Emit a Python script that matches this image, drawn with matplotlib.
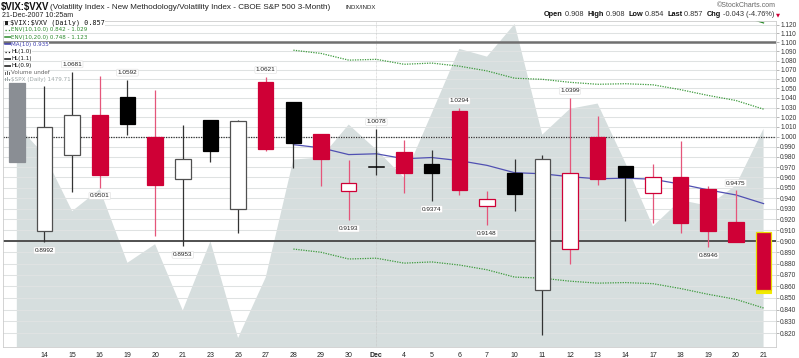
import matplotlib
matplotlib.use('Agg')
import matplotlib.pyplot as plt
import matplotlib.ticker as mticker
from matplotlib.patches import Rectangle
from matplotlib.lines import Line2D
import numpy as np
import pandas as pd

# ---------------- data ----------------
day_labels = ['', '14', '15', '16', '19', '20', '21', '23', '26', '27', '28', '29', '30',
              'Dec', '4', '5', '6', '7', '10', '11', '12', '13', '14', '17', '18', '19', '20', '21']
opens = [1.0557, 0.9094, 0.9817, 1.0225, 1.0415, 1.0003, 0.9588, 1.0170, 0.9296, 1.0574,
         1.0363, 1.0030, 0.9468, 0.9705, 0.9850, 0.9734, 1.0259, 0.9324, 0.9646, 0.8568,
         0.8928, 0.9997, 0.9714, 0.9447, 0.9601, 0.9491, 0.9180, 0.9080]
highs = [1.0557, 1.0529, 1.0681, 1.0636, 1.0592, 1.0479, 1.0122, 1.0170, 1.0170, 1.0621,
         1.0363, 1.0030, 0.9770, 1.0078, 0.9970, 0.9870, 1.0294, 0.9469, 0.9780, 0.9820,
         1.0399, 1.0214, 0.9714, 0.9730, 0.9963, 0.9517, 0.9475, 0.9080]
lows = [0.9750, 0.8992, 0.9457, 0.9501, 1.0020, 0.9048, 0.8953, 0.9750, 0.9079, 0.9860,
        0.9695, 0.9520, 0.9193, 0.9623, 0.9453, 0.9374, 0.9430, 0.9148, 0.9277, 0.8187,
        0.8793, 0.9524, 0.9187, 0.9165, 0.9078, 0.8946, 0.8994, 0.8540]
closes = [0.9750, 1.0101, 1.0218, 0.9626, 1.0129, 0.9527, 0.9780, 0.9857, 1.0160, 0.9880,
          0.9937, 0.9780, 0.9549, 0.9705, 0.9640, 0.9646, 0.9476, 0.9390, 0.9443, 0.9777,
          0.9646, 0.9588, 0.9604, 0.9601, 0.9168, 0.9094, 0.8994, 0.8570]
spx = [1481.05, 1470.58, 1451.15, 1458.74, 1433.27, 1439.70, 1416.77, 1440.70, 1407.22,
       1428.23, 1469.02, 1469.72, 1481.14, 1472.42, 1462.79, 1485.01, 1507.34, 1504.66,
       1515.96, 1477.65, 1486.59, 1488.41, 1467.95, 1445.90, 1454.98, 1453.00, 1460.12, 1479.71]
high_label_idx = [2, 4, 9, 13, 16, 20, 26]
low_label_idx = [1, 3, 6, 12, 15, 17, 25]
ma_period = 10
env_pcts = [10.0, 20.0]
hl_levels = [1.0, 1.1, 0.9]

W, H = 799, 358
fig = plt.figure(figsize=(W / 100, H / 100), dpi=100)
fig.patch.set_facecolor('white')

L, R, T, B = 3, 776, 21, 347
rect = [L / W, 1 - B / H, (R - L) / W, (B - T) / H]

RED = '#cf0036'
RED_W = '#e5557a'
AREA = '#d6dede'

n = len(closes)
x = np.arange(n)
xlim = (-0.5, n - 1 + 0.45)

# --- SPX background area (own axes, behind) ---
axs = fig.add_axes(rect)
axs.fill_between(x, spx, 1390, color=AREA, lw=0, zorder=1)
axs.set_xlim(*xlim)
axs.set_ylim(1404.1, 1517.0)
axs.axis('off')

# --- main axes ---
ax = fig.add_axes(rect)
ax.set_facecolor('none')
ax.set_yscale('log')
ax.set_xlim(*xlim)
ax.set_ylim(0.8089, 1.1240)

yt = np.round(np.arange(0.82, 1.1201, 0.01), 3)
ax.yaxis.set_major_locator(mticker.FixedLocator(yt))
ax.yaxis.set_minor_locator(mticker.NullLocator())
ax.yaxis.set_major_formatter(mticker.FuncFormatter(lambda v, p: f'{v:.3f}'))
ax.yaxis.tick_right()
ax.tick_params(axis='y', which='both', direction='out', length=2, width=0.5, color='#999999',
               pad=1, labelsize=4.7, labelcolor='#333333')
for lab in ax.get_yticklabels():
    lab.set_family('Liberation Sans')
ax.set_xticks(x)
ax.set_xticklabels(day_labels, fontsize=5, family='Liberation Sans', color='#222222')
ax.tick_params(axis='x', length=0, pad=3.5)
ax.get_xticklabels()[13].set_fontweight('bold')
ax.grid(axis='y', color='#dfe2e2', lw=0.75, zorder=0.8)
ax.set_axisbelow(True)
for s in ax.spines.values():
    s.set_color('#cccccc')
    s.set_linewidth(0.6)
ax.axvline(13, color='#c4c4c4', lw=0.5, ls=(0, (1, 1)), zorder=0.9)

# horizontal levels
ax.axhline(hl_levels[0], color='#333333', lw=0.9, ls=(0, (1, 1)), zorder=1.5)
ax.axhline(hl_levels[1], color='#707070', lw=1.8, zorder=1.5)
ax.axhline(hl_levels[2], color='#505050', lw=1.4, zorder=1.5)

# moving average + envelopes (chart starts the MA on the 11th bar)
ma = pd.Series(closes).rolling(ma_period).mean().to_numpy()
ma[:ma_period] = np.nan
ax.plot(x, ma, color='#5050b2', lw=0.9, zorder=2)
ax.plot(x, ma * (1 + env_pcts[0] / 100), color='#3c9a3c', lw=0.9, ls=(0, (1, 1)), zorder=2)
ax.plot(x, ma * (1 - env_pcts[0] / 100), color='#3c9a3c', lw=0.9, ls=(0, (1, 1)), zorder=2)
ax.plot(x, ma * (1 + env_pcts[1] / 100), color='#2a8a2a', lw=0.9, zorder=2)
ax.plot(x, ma * (1 - env_pcts[1] / 100), color='#2a8a2a', lw=0.9, zorder=2)

# candles
bw = 0.56
for i in range(n):
    o, h, l, c = opens[i], highs[i], lows[i], closes[i]
    if i == 0:
        col, wcol = '#8a8e94', '#8a8e94'
    elif c >= closes[i - 1]:
        col, wcol = '#000000', '#333333'
    else:
        col, wcol = RED, RED_W
    filled = c < o
    last = (i == n - 1)
    if i > 0:
        ax.plot([i, i], [l, h], color=wcol, lw=0.9, zorder=2.5, solid_capstyle='butt')
    lo_b, hi_b = min(o, c), max(o, c)
    if abs(hi_b - lo_b) < 1e-4:
        ax.plot([i - bw / 2, i + bw / 2], [o, o], color=col, lw=1.1, zorder=3)
        continue
    if last:
        ax.add_patch(Rectangle((i - bw / 2, l), bw, lo_b - l, facecolor='#f2ea00',
                               edgecolor='#f2ea00', lw=0.8, zorder=2.9))
    ax.add_patch(Rectangle((i - bw / 2, lo_b), bw, hi_b - lo_b,
                           facecolor=col if filled else 'white',
                           edgecolor=('#e8d800' if last else ('#505050' if col == '#000000' and not filled else col)),
                           lw=0.9, zorder=3))

# price labels
bbox_kw = dict(boxstyle='round,pad=0.15', facecolor='white', edgecolor='#dddddd', lw=0.4)
for i in high_label_idx:
    ax.annotate(f'{highs[i]:.4f}', (i, highs[i]), xytext=(0, 5.2), textcoords='offset points',
                ha='center', va='center', fontsize=4.6, family='Liberation Sans', color='#222222',
                bbox=bbox_kw, zorder=4)
for i in low_label_idx:
    ax.annotate(f'{lows[i]:.4f}', (i, lows[i]), xytext=(0, -6.0), textcoords='offset points',
                ha='center', va='center', fontsize=4.6, family='Liberation Sans', color='#222222',
                bbox=bbox_kw, zorder=4)


def ft(xp, yp, s, **kw):
    return fig.text(xp / W, 1 - yp / H, s, va='center', **kw)


def fline(x0, x1, yp, **kw):
    fig.add_artist(Line2D([x0 / W, x1 / W], [1 - yp / H, 1 - yp / H], transform=fig.transFigure, **kw))


# legend inside the plot
wb = dict(facecolor='white', edgecolor='none', pad=0.2)
ft(10, 23, '\\$VIX:\\$VXV (Daily) ' + f'{closes[-1]:.3f}', family='DejaVu Sans Mono', fontsize=4.9,
   color='#111111', bbox=wb)
fig.add_artist(Rectangle((5 / W, 1 - 25 / H), 3 / W, 4 / H, transform=fig.transFigure,
                         facecolor='#222222', edgecolor='none'))
lg_rows = [
    (30.0, 'ENV(10,10.0) 0.842 - 1.029', '#2e8b2e', ':'),
    (37.2, 'ENV(10,20.0) 0.748 - 1.123', '#2e8b2e', '-'),
    (44.3, 'MA(10) 0.935', '#3a3aaa', '-'),
    (51.6, 'HL(1.0)', '#111111', ':'),
    (58.7, 'HL(1.1)', '#111111', '-'),
    (65.9, 'HL(0.9)', '#111111', '-'),
    (72.7, 'Volume undef', '#666666', None),
    (79.3, '\\$SPX (Daily) 1479.71', '#9fa8a8', None),
]
for yp, s, c, ls in lg_rows:
    ft(11, yp, s, family='DejaVu Sans', fontsize=4.1, color=c, bbox=wb)
    if ls is not None:
        fline(4.5, 10.5, yp, color=c, lw=1.1 if ls == '-' else 0.9, ls=ls)
    else:
        for k, hh in enumerate([3, 4, 2.5]):
            fig.add_artist(Rectangle(((5 + k * 1.8) / W, 1 - (yp + 2) / H), 1.3 / W, hh / H,
                                     transform=fig.transFigure, facecolor=c, edgecolor='none'))

# header
ft(1, 7, '\\$VIX:\\$VXV', family='Liberation Sans', fontsize=6.9, fontweight='bold', color='#111111')
ft(50, 7.5, '(Volatility Index - New Methodology/Volatility Index - CBOE S&P 500 3-Month)',
   family='Liberation Sans', fontsize=5.9, color='#222222')
ft(345, 7.8, 'INDX/INDX', family='Liberation Sans', fontsize=4.3, color='#222222')
ft(2, 15.5, '21-Dec-2007 10:25am', family='Liberation Sans', fontsize=5.1, color='#222222')
ft(776, 5.5, '\u00a9StockCharts.com', family='Liberation Sans', fontsize=5.0, color='#666666', ha='right')

renderer = fig.canvas.get_renderer()
parts = [('Open', 'bold', '#111111'), (' 0.908  ', 'normal', '#333333'),
         ('High', 'bold', '#111111'), (' 0.908  ', 'normal', '#333333'),
         ('Low', 'bold', '#111111'), (' 0.854  ', 'normal', '#333333'),
         ('Last', 'bold', '#111111'), (' 0.857  ', 'normal', '#333333'),
         ('Chg', 'bold', '#111111'), (' -0.043 (-4.76%) ', 'normal', '#333333'),
         ('\u25bc', 'normal', RED)]
xp = 544
for s, wgt, c in parts:
    t = ft(xp, 14.8, s, family='Liberation Sans' if s != '\u25bc' else 'DejaVu Sans',
           fontsize=5.3 if s != '\u25bc' else 3.8, fontweight=wgt, color=c)
    xp += t.get_window_extent(renderer).width

fig.savefig('out.png', dpi=100, facecolor='white')
